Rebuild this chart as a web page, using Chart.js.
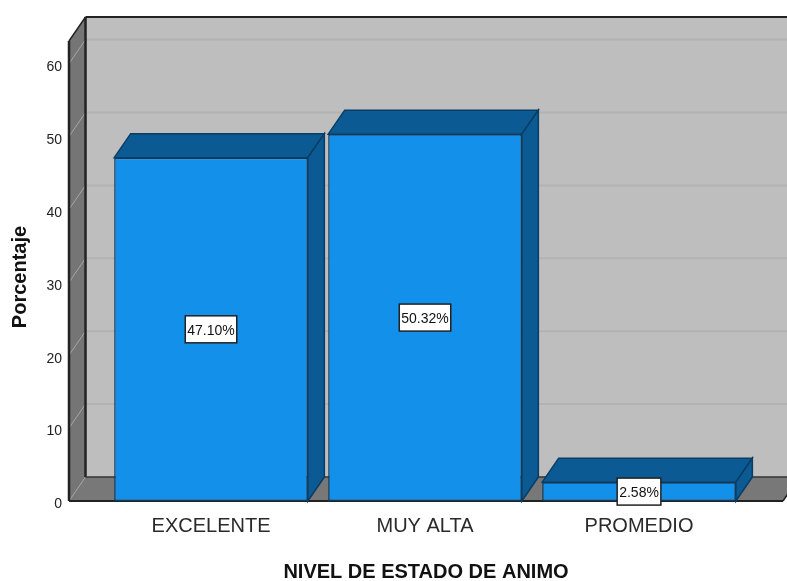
<!DOCTYPE html>
<html>
<head>
<meta charset="utf-8">
<style>html,body{margin:0;padding:0;background:#fff}#w{width:787px;height:581px}</style>
<script src="https://cdn.jsdelivr.net/npm/chart.js@4/dist/chart.umd.min.js"></script>
</head>
<body>
<div id="w"><canvas id="c"></canvas></div>
<script>
const categories = ['EXCELENTE', 'MUY ALTA', 'PROMEDIO'];
const percentages = [47.10, 50.32, 2.58];
const valueLabels = ['47.10%', '50.32%', '2.58%'];
const yTitle = 'Porcentaje';
const xTitle = 'NIVEL DE ESTADO DE ANIMO';

const DX = 16.5, DY = -24;
const FONT = '"Liberation Sans", Arial, sans-serif';

class PaddedCategory extends Chart.CategoryScale {
  configure() {
    super.configure();
    this._startValue = -0.6636;
    this._valueRange = 3.3364;
  }
}
PaddedCategory.id = 'paddedCategory';
PaddedCategory.defaults = Chart.CategoryScale.defaults;

class ShiftedLinear extends Chart.LinearScale {
  _computeLabelItems(area) {
    const items = super._computeLabelItems(area);
    items.forEach(it => { it.options.translation[1] += 3.5; });
    return items;
  }
  drawTitle() {
    this.ctx.save();
    this.ctx.translate(1, 6);
    super.drawTitle();
    this.ctx.restore();
  }
}
ShiftedLinear.id = 'shiftedLinear';
ShiftedLinear.defaults = Chart.LinearScale.defaults;
Chart.register(PaddedCategory, ShiftedLinear);

function poly(ctx, pts, fill, stroke, lw) {
  ctx.beginPath();
  pts.forEach((p, i) => i ? ctx.lineTo(p[0], p[1]) : ctx.moveTo(p[0], p[1]));
  ctx.closePath();
  if (fill) { ctx.fillStyle = fill; ctx.fill(); }
  if (stroke) { ctx.strokeStyle = stroke; ctx.lineWidth = lw || 1; ctx.stroke(); }
}
function line(ctx, x1, y1, x2, y2, c, lw) {
  ctx.beginPath(); ctx.moveTo(x1, y1); ctx.lineTo(x2, y2);
  ctx.strokeStyle = c; ctx.lineWidth = lw; ctx.stroke();
}

const walls = {
  id: 'walls',
  beforeDatasetsDraw(chart) {
    const { ctx, chartArea: a, scales: { y } } = chart;
    const W = chart.width + 20;
    ctx.save();
    poly(ctx, [[a.left + DX, a.top + DY], [W, a.top + DY], [W, a.bottom + DY], [a.left + DX, a.bottom + DY]], '#bebebe');
    poly(ctx, [[a.left, a.top], [a.left + DX, a.top + DY], [a.left + DX, a.bottom + DY], [a.left, a.bottom]], '#757575');
    poly(ctx, [[a.left, a.bottom], [a.right, a.bottom], [a.right + DX, a.bottom + DY], [a.left + DX, a.bottom + DY]], '#787878');
    y.ticks.forEach(t => {
      const py = y.getPixelForValue(t.value);
      if (t.value > 0) {
        line(ctx, a.left + DX, py + DY, W, py + DY, '#b2b2b2', 2);
        line(ctx, a.left, py, a.left + DX, py + DY, '#a6a6a6', 1);
      } else {
        line(ctx, a.left, py, a.left + DX, py + DY, '#a0a0a0', 1);
      }
    });
    line(ctx, a.left + DX, a.top + DY, W, a.top + DY, '#222', 2);
    line(ctx, a.left + DX, a.top + DY, a.left + DX, a.bottom + DY, '#222', 2.5);
    line(ctx, a.left + DX, a.bottom + DY, W, a.bottom + DY, '#333', 1.5);
    line(ctx, a.left, a.top, a.left + DX, a.top + DY, '#222', 1.5);
    line(ctx, a.left, a.top, a.left, a.bottom, '#222', 2.5);
    line(ctx, a.left, a.bottom, a.right, a.bottom, '#222', 2);
    line(ctx, a.right, a.bottom, a.right + DX, a.bottom + DY, '#222', 1.5);
    chart.getDatasetMeta(0).data.forEach(b => {
      const l = b.x - b.width / 2, r = b.x + b.width / 2, t = b.y, bt = b.base;
      poly(ctx, [[l, t], [r, t], [r + DX, t + DY], [l + DX, t + DY]], '#0b5a94', '#0a3d63', 1.5);
      poly(ctx, [[r, t], [r + DX, t + DY], [r + DX, bt + DY], [r, bt]], '#0b5a94', '#0a3d63', 1.5);
    });
    ctx.restore();
  },
  afterDatasetsDraw(chart) {
    const { ctx } = chart;
    ctx.save();
    ctx.font = '14px ' + FONT;
    ctx.textAlign = 'center';
    ctx.textBaseline = 'middle';
    chart.getDatasetMeta(0).data.forEach((b, i) => {
      const cy = (b.y + b.base) / 2;
      const w = ctx.measureText(valueLabels[i]).width + 4, h = 27;
      ctx.fillStyle = '#fff';
      ctx.fillRect(b.x - w / 2, cy - h / 2, w, h);
      ctx.strokeStyle = '#222';
      ctx.lineWidth = 1.5;
      ctx.strokeRect(b.x - w / 2, cy - h / 2, w, h);
      ctx.fillStyle = '#111';
      ctx.fillText(valueLabels[i], b.x, cy + 2);
    });
    ctx.restore();
  }
};

new Chart(document.getElementById('c'), {
  type: 'bar',
  data: {
    labels: categories,
    datasets: [{
      data: percentages,
      backgroundColor: '#1390e9',
      borderColor: '#0a3d63',
      borderWidth: 1.5,
      borderSkipped: false,
      barPercentage: 0.905,
      categoryPercentage: 1
    }]
  },
  options: {
    responsive: true,
    maintainAspectRatio: false,
    animation: false,
    layout: { padding: { top: 41, right: 4, left: 0, bottom: 0 } },
    plugins: { legend: { display: false }, tooltip: { enabled: false } },
    scales: {
      x: {
        type: 'paddedCategory',
        afterFit: s => { s.height = 80; },
        grid: { display: false },
        border: { display: false },
        ticks: { color: '#2a2a2a', font: { family: FONT, size: 20 }, padding: 5, maxRotation: 0 },
        title: { display: true, text: xTitle, color: '#111', font: { family: FONT, size: 20, weight: 'bold' }, padding: { top: 0, bottom: -3 } }
      },
      y: {
        type: 'shiftedLinear',
        min: 0,
        max: 63.1,
        afterFit: s => { s.width = 69; },
        grid: { display: false },
        border: { display: false },
        ticks: { stepSize: 10, includeBounds: false, color: '#222', font: { family: FONT, size: 14 }, padding: -1 },
        title: { display: true, text: yTitle, color: '#111', font: { family: FONT, size: 20, weight: 'bold' }, padding: { top: 7, bottom: 0 } }
      }
    }
  },
  plugins: [walls]
});
</script>
</body>
</html>
